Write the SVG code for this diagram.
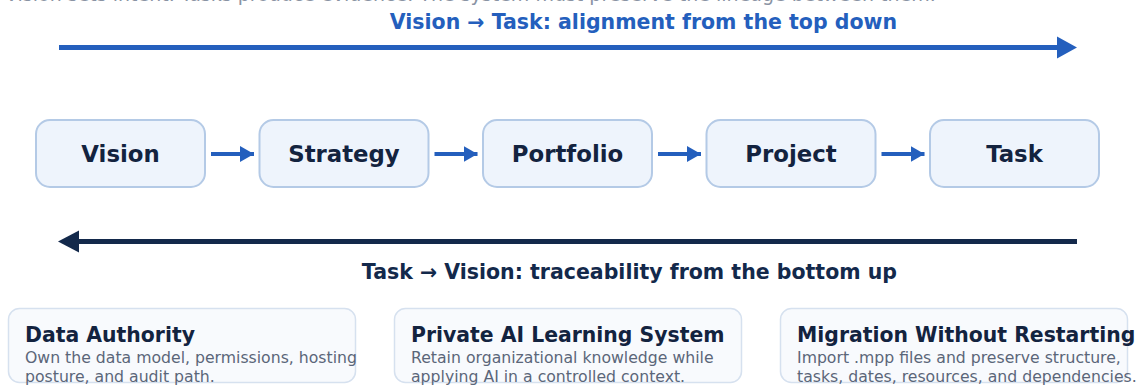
<svg xmlns="http://www.w3.org/2000/svg" width="1141" height="385" viewBox="0 0 1141 385">
<style>
.node rect{fill:#eef4fc;stroke:#b4cae6;stroke-width:2}
.node text{font-family:"DejaVu Sans",sans-serif;font-weight:bold;font-size:22.8px;fill:#13233f;text-anchor:middle}
.card rect{fill:#f8fafd;stroke:#d6e1ef;stroke-width:1.5}
.card .t{font-family:"DejaVu Sans",sans-serif;font-weight:bold;font-size:20.4px;fill:#13233f}
.card .d{font-family:"DejaVu Sans",sans-serif;font-size:15.7px;fill:#5b6679}
.lbl{font-family:"DejaVu Sans",sans-serif;font-weight:bold;font-size:20.5px;text-anchor:end}
.flow{stroke:#245fbd;stroke-width:4;fill:none}
</style>
<defs>
<marker id="ah" markerUnits="userSpaceOnUse" markerWidth="14" markerHeight="16" refX="14" refY="8" orient="auto"><path d="M0,0 L14,8 L0,16 Z" fill="#245fbd"/></marker>
</defs>
<text x="5" y="1" style="font-family:'DejaVu Sans',sans-serif;font-size:19px;fill:#8a93a3">Vision sets intent. Tasks produce evidence. The system must preserve the lineage between them.</text>
<text class="lbl" x="897" y="29" fill="#245fbd">Vision → Task: alignment from the top down</text>
<text class="lbl" x="897" y="279" fill="#13294b">Task → Vision: traceability from the bottom up</text>
<g id="connectors">
<line x1="59" y1="47.5" x2="1060" y2="47.5" stroke="#245fbd" stroke-width="5"/>
<path d="M1057,36.5 L1077,47.5 L1057,58.5 Z" fill="#245fbd"/>
<line x1="76" y1="241.5" x2="1077" y2="241.5" stroke="#13294b" stroke-width="5"/>
<path d="M79,230.5 L58,241.5 L79,252.5 Z" fill="#13294b"/>
<line class="flow" x1="211" y1="154" x2="254" y2="154" marker-end="url(#ah)"/>
<line class="flow" x1="434.5" y1="154" x2="477.5" y2="154" marker-end="url(#ah)"/>
<line class="flow" x1="658" y1="154" x2="701" y2="154" marker-end="url(#ah)"/>
<line class="flow" x1="881.5" y1="154" x2="924.5" y2="154" marker-end="url(#ah)"/>
</g>
<g id="vision" class="node"><rect x="36" y="120" width="169" height="67" rx="14"/><text x="120.5" y="162">Vision</text></g>
<g id="strategy" class="node"><rect x="259.5" y="120" width="169" height="67" rx="14"/><text x="344" y="162">Strategy</text></g>
<g id="portfolio" class="node"><rect x="483" y="120" width="169" height="67" rx="14"/><text x="567.5" y="162">Portfolio</text></g>
<g id="project" class="node"><rect x="706.5" y="120" width="169" height="67" rx="14"/><text x="791" y="162">Project</text></g>
<g id="task" class="node"><rect x="930" y="120" width="169" height="67" rx="14"/><text x="1014.5" y="162">Task</text></g>
<g id="data-authority" class="card"><rect x="8.5" y="308.5" width="347" height="74" rx="11"/><text class="t" x="25" y="342">Data Authority</text><text class="d" x="25" y="363">Own the data model, permissions, hosting</text><text class="d" x="25" y="382">posture, and audit path.</text></g>
<g id="private-ai" class="card"><rect x="394.5" y="308.5" width="347" height="74" rx="11"/><text class="t" x="411" y="342">Private AI Learning System</text><text class="d" x="411" y="363">Retain organizational knowledge while</text><text class="d" x="411" y="382">applying AI in a controlled context.</text></g>
<g id="migration" class="card"><rect x="780.5" y="308.5" width="347" height="74" rx="11"/><text class="t" x="797" y="342">Migration Without Restarting</text><text class="d" x="797" y="363">Import .mpp files and preserve structure,</text><text class="d" x="797" y="382">tasks, dates, resources, and dependencies.</text></g>
</svg>
